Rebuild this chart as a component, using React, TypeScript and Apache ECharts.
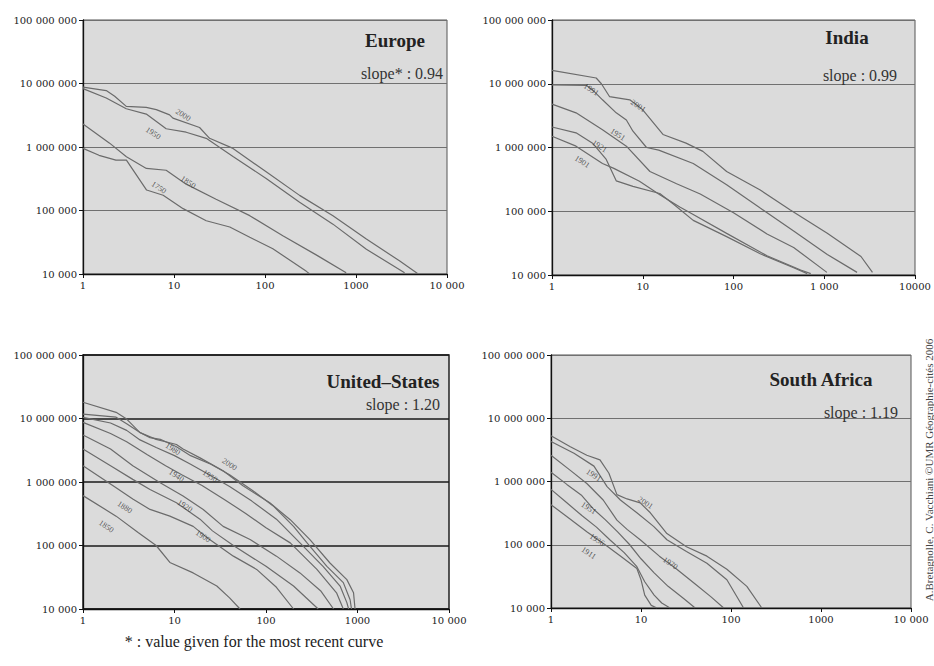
import React, { useEffect, useRef } from "react";
import * as echarts from "echarts";

type Pt = [number, number];

// ---------- tick labels ----------
const Y_TICKS = ["10 000", "100 000", "1 000 000", "10 000 000", "100 000 000"];
const X_TICKS_EUROPE = ["1", "10", "100", "1000", "10 000"];
const X_TICKS_INDIA = ["1", "10", "100", "1 000", "10000"];
const X_TICKS_US = ["1", "10", "100", "1000", "10 000"];
const X_TICKS_SA = ["1", "10", "100", "1000", "10 000"];

// ---------- Europe (rank, population) ----------
const EUROPE_YEARS = ["2000", "1950", "1850", "1750"];
const EUROPE_2000: Pt[] = [[1, 8.74e6], [1.8, 7.74e6], [2.23, 6.3e6], [2.99, 4.37e6], [4.96, 4.2e6], [6.39, 3.87e6], [8.95, 3.2e6], [9.73, 2.85e6], [19.1, 2.03e6], [24.6, 1.37e6], [44.5, 9.5e5], [103, 4.06e5], [240, 1.73e5], [558, 8.3e4], [1300, 3.55e4], [3028, 1.6e4], [4743, 1.02e4]];
const EUROPE_1950: Pt[] = [[1, 8.3e6], [1.8, 5.9e6], [2.99, 4.0e6], [4.96, 3.3e6], [8.2, 1.94e6], [13.6, 1.71e6], [22.6, 1.37e6], [44.5, 7.1e5], [103, 3.2e5], [240, 1.35e5], [558, 6.1e4], [1300, 2.45e4], [3420, 1.05e4]];
const EUROPE_1850: Pt[] = [[1, 2.3e6], [1.96, 1.15e6], [3, 7e5], [4.97, 4.6e5], [8.2, 4.3e5], [13.6, 2.6e5], [29, 1.5e5], [68, 8.3e4], [157, 4e4], [365, 2e4], [780, 1.05e4]];
const EUROPE_1750: Pt[] = [[1, 9.5e5], [1.5, 7.4e5], [2.3, 6.2e5], [3, 6.2e5], [5, 2.1e5], [7.6, 1.74e5], [12.6, 1.07e5], [22.6, 6.9e4], [41, 5.5e4], [68, 3.8e4], [122, 2.5e4], [285, 1.1e4], [310, 1.0e4]];
const EUROPE_LABEL_AT: Pt[] = [[12.6, 3.2e6], [5.9, 1.65e6], [14.3, 2.8e5], [6.8, 2.3e5]];

// ---------- India ----------
const INDIA_YEARS = ["2001", "1991", "1951", "1921", "1901"];
const INDIA_2001: Pt[] = [[1, 1.62e7], [3.07, 1.23e7], [3.5, 1.0e7], [4.3, 6.3e6], [7.2, 5.6e6], [10, 3.9e6], [16.7, 1.6e6], [30, 1.17e6], [46, 8.7e5], [84, 4.2e5], [197, 2.15e5], [423, 1.05e5], [1080, 4.5e4], [2540, 1.95e4], [3400, 1.1e4]];
const INDIA_1991: Pt[] = [[1, 9.6e6], [2.4, 9.4e6], [2.8, 8e6], [3.6, 5.6e6], [5.1, 3.5e6], [6.6, 2.7e6], [7.8, 1.8e6], [11, 1.0e6], [15, 9.1e5], [36, 5.6e5], [84, 2.6e5], [197, 1.12e5], [460, 4.9e4], [1080, 2.1e4], [2300, 1.1e4]];
const INDIA_1951: Pt[] = [[1, 4.8e6], [1.84, 3.5e6], [3.6, 1.9e6], [6.6, 1.05e6], [12, 4.2e5], [23.6, 2.7e5], [43, 1.86e5], [100, 9.5e4], [234, 4.4e4], [460, 2.7e4], [1070, 1.1e4]];
const INDIA_1921: Pt[] = [[1, 2.1e6], [1.84, 1.7e6], [2.8, 1.17e6], [3.96, 6.5e5], [5.1, 3.0e5], [7.8, 2.45e5], [15.4, 1.9e5], [21.7, 1.3e5], [36, 7.2e4], [84, 4.0e4], [197, 2.15e4], [460, 1.3e4], [650, 1.05e4]];
const INDIA_1901: Pt[] = [[1, 1.5e6], [1.84, 1.05e6], [3.6, 5.6e5], [4.8, 4.7e5], [9.2, 2.95e5], [15.4, 1.82e5], [25.6, 1.17e5], [36, 8.9e4], [84, 4.5e4], [234, 2.0e4], [550, 1.2e4], [710, 1.05e4]];
const INDIA_LABEL_AT: Pt[] = [[8.9, 4.5e6], [2.7, 8.1e6], [5.3, 1.6e6], [3.34, 1.05e6], [2.15, 6.0e5]];

// ---------- United States ----------
const US_YEARS = ["2000", "1980", "1950", "1940", "1920", "1900", "1880", "1850"];
const US_2000: Pt[] = [[1, 1.8e7], [2.3, 1.25e7], [3, 9.8e6], [4.2, 6e6], [6.3, 4.7e6], [10.5, 3.9e6], [12.4, 3.3e6], [19, 2.4e6], [34, 1.5e6], [56, 8.7e5], [110, 4.7e5], [184, 2.55e5], [302, 1.24e5], [500, 5.3e4], [765, 2.9e4], [905, 1.8e4], [940, 1.0e4]];
const US_1980: Pt[] = [[1, 1.17e7], [2.3, 1.05e7], [3, 8.3e6], [4.2, 6e6], [5.4, 5e6], [7, 4.7e6], [10.5, 3.6e6], [15, 2.6e6], [25, 1.9e6], [40, 1.3e6], [70, 7.5e5], [120, 4.2e5], [200, 2.0e5], [278, 1.12e5], [463, 4.7e4], [700, 2.6e4], [830, 1.4e4], [860, 1.0e4]];
const US_1950: Pt[] = [[1, 1.04e7], [2, 8.5e6], [3, 6.5e6], [4.2, 4.6e6], [6.3, 3.5e6], [10, 2.6e6], [15, 1.9e6], [24, 1.3e6], [40, 8.5e5], [70, 5e5], [130, 2.6e5], [235, 1.1e5], [420, 4.7e4], [645, 2.3e4], [765, 1.26e4], [800, 1.0e4]];
const US_1940: Pt[] = [[1, 8.7e6], [2, 5.8e6], [3, 4.3e6], [5, 2.7e6], [8, 1.8e6], [12, 1.3e6], [20, 8.8e5], [35, 5.3e5], [60, 3.2e5], [100, 1.9e5], [184, 1.1e5], [360, 4.2e4], [590, 1.8e4], [700, 1.0e4]];
const US_1920: Pt[] = [[1, 5.5e6], [2, 3.3e6], [3.5, 1.8e6], [6.9, 9.8e5], [12.4, 6e5], [20.6, 3.7e5], [34, 2e5], [67, 1.24e5], [130, 6.8e4], [235, 3.7e4], [400, 1.9e4], [547, 1.0e4]];
const US_1900: Pt[] = [[1, 3.3e6], [2, 1.8e6], [3.5, 1.1e6], [5.4, 7.6e5], [10.5, 4.7e5], [19, 2.6e5], [26, 1.7e5], [44, 1.0e5], [100, 4.7e4], [200, 2.3e4], [372, 1.0e4]];
const US_1880: Pt[] = [[1, 1.8e6], [2.3, 8.1e5], [3.5, 5.4e5], [5.4, 3.7e5], [8.9, 2.9e5], [16, 2e5], [24, 1.25e5], [44, 6.8e4], [79, 4.2e4], [130, 2.2e4], [200, 1.0e4]];
const US_1850: Pt[] = [[1, 6.1e5], [2.3, 2.9e5], [4, 1.6e5], [6.3, 1.0e5], [8.9, 5.4e4], [16, 3.7e4], [29, 2.3e4], [40, 1.5e4], [52, 1.0e4]];
const US_LABEL_AT: Pt[] = [[40, 1.9e6], [9.6, 3.3e6], [24.4, 1.24e6], [10.5, 1.26e6], [13, 4.2e5], [20.5, 1.4e5], [2.86, 4e5], [1.8, 2e5]];

// ---------- South Africa ----------
const SA_YEARS = ["2001", "1991", "1970", "1951", "1936", "1911"];
const SA_2001: Pt[] = [[1, 5.3e6], [1.64, 3.55e6], [2.5, 2.6e6], [3.5, 2.2e6], [4.4, 1.35e6], [5.4, 6.2e5], [7, 5.3e5], [9.8, 4.6e5], [12.7, 3.2e5], [19.4, 1.5e5], [32, 9.3e4], [54, 6.6e4], [90, 4.1e4], [150, 2.2e4], [220, 1.0e4]];
const SA_1991: Pt[] = [[1, 4.3e6], [1.8, 2.8e6], [3, 1.75e6], [4.2, 8.3e5], [5.9, 5.1e5], [9, 3.2e5], [13.8, 1.95e5], [19.4, 1.2e5], [32, 7.8e4], [54, 5.1e4], [90, 2.8e4], [138, 1.0e4]];
const SA_1970: Pt[] = [[1, 2.6e6], [1.64, 1.5e6], [2.5, 9.3e5], [3.8, 5.1e5], [5.4, 2.45e5], [7, 1.75e5], [9.8, 1.2e5], [16, 6.6e4], [25, 4.1e4], [40, 2.4e4], [60, 1.5e4], [83, 1.0e4]];
const SA_1951: Pt[] = [[1, 1.4e6], [1.5, 9e5], [2.2, 6e5], [3, 3.6e5], [4, 2.5e5], [5.5, 1.6e5], [7.5, 1.0e5], [10, 6e4], [14, 3.6e4], [20, 2.2e4], [30, 1.4e4], [40, 1.0e4]];
const SA_1936: Pt[] = [[1, 7.5e5], [1.5, 4.6e5], [2.2, 2.9e5], [3.2, 1.9e5], [4.5, 1.2e5], [6.5, 7.5e4], [9, 4.5e4], [11, 2.6e4], [14, 1.6e4], [17, 1.2e4], [21, 1.0e4]];
const SA_1911: Pt[] = [[1, 4.3e5], [1.6, 2.6e5], [2.5, 1.6e5], [4, 1.0e5], [6, 6.5e4], [9, 4.2e4], [10, 2.8e4], [11, 1.6e4], [13, 1.1e4], [15, 1.0e4]];
const SA_LABEL_AT: Pt[] = [[11.2, 4.6e5], [2.98, 1.26e6], [21.2, 5.1e4], [2.62, 3.8e5], [3.24, 1.2e5], [2.62, 7.4e4]];

// ---------- texts ----------
const TITLES = ["Europe", "India", "United–States", "South Africa"];
const SLOPES = ["slope* : 0.94", "slope : 0.99", "slope : 1.20", "slope : 1.19"];
const FOOTNOTE = "* : value given for the most recent curve";
const CREDIT = "A.Bretagnolle, C. Vacchiani ©UMR Géographie-cités 2006";

const PANELS = [
  { years: EUROPE_YEARS, curves: [EUROPE_2000, EUROPE_1950, EUROPE_1850, EUROPE_1750], labelAt: EUROPE_LABEL_AT, xTicks: X_TICKS_EUROPE },
  { years: INDIA_YEARS, curves: [INDIA_2001, INDIA_1991, INDIA_1951, INDIA_1921, INDIA_1901], labelAt: INDIA_LABEL_AT, xTicks: X_TICKS_INDIA },
  { years: US_YEARS, curves: [US_2000, US_1980, US_1950, US_1940, US_1920, US_1900, US_1880, US_1850], labelAt: US_LABEL_AT, xTicks: X_TICKS_US },
  { years: SA_YEARS, curves: [SA_2001, SA_1991, SA_1970, SA_1951, SA_1936, SA_1911], labelAt: SA_LABEL_AT, xTicks: X_TICKS_SA },
];

const GRIDS = [
  { left: 83, top: 20, width: 364, height: 254 },
  { left: 552, top: 20, width: 363, height: 255 },
  { left: 83, top: 355, width: 366, height: 254 },
  { left: 551, top: 355, width: 360, height: 253 },
];

const AXIS_FONT = '"DejaVu Serif", serif';
const SERIF = '"Liberation Serif", "Times New Roman", serif';

function tickIndex(v: number, minExp: number) {
  return Math.round(Math.log10(v)) - minExp;
}

export default function App() {
  const ref = useRef<HTMLDivElement>(null);
  useEffect(() => {
    if (!ref.current) return;
    const chart = echarts.init(ref.current, undefined, { renderer: "svg" });
    const isUS = (i: number) => i === 2;

    const xAxes = PANELS.map((p, i) => ({
      type: "log",
      logBase: 10,
      gridIndex: i,
      min: 1,
      max: 10000,
      axisLine: { show: true, lineStyle: { color: "#111", width: 1.3 } },
      axisTick: { show: true, length: 4, lineStyle: { color: "#111" } },
      axisLabel: {
        margin: 6,
        fontSize: 10,
        fontFamily: AXIS_FONT,
        color: "#222",
        formatter: (v: number) => p.xTicks[tickIndex(v, 0)] ?? "",
      },
      splitLine: { show: false },
      minorTick: { show: false },
    }));

    const yAxes = PANELS.map((p, i) => ({
      type: "log",
      logBase: 10,
      gridIndex: i,
      min: 10000,
      max: 100000000,
      axisLine: { show: true, lineStyle: { color: "#111", width: 1.3 } },
      axisTick: { show: true, length: 4, lineStyle: { color: "#111" } },
      axisLabel: {
        margin: 6,
        fontSize: 10,
        fontFamily: AXIS_FONT,
        color: "#222",
        formatter: (v: number) => Y_TICKS[tickIndex(v, 4)] ?? "",
      },
      splitLine: {
        show: true,
        lineStyle: { color: isUS(i) ? "#1a1a1a" : "#707070", width: isUS(i) ? 1.6 : 1 },
      },
    }));

    const series: any[] = [];
    PANELS.forEach((p, i) => {
      p.curves.forEach((c, k) => {
        series.push({
          type: "line",
          name: p.years[k],
          xAxisIndex: i,
          yAxisIndex: i,
          data: c,
          showSymbol: false,
          symbol: "none",
          silent: true,
          lineStyle: { color: "#6b6b6b", width: 1.2 },
          z: 3,
        });
      });
      series.push({
        type: "scatter",
        xAxisIndex: i,
        yAxisIndex: i,
        symbolSize: 1,
        itemStyle: { color: "rgba(0,0,0,0)" },
        silent: true,
        z: 4,
        data: p.years.map((y, k) => ({ name: y, value: p.labelAt[k] })),
        label: {
          show: true,
          position: "inside",
          formatter: "{b}",
          rotate: -33,
          fontSize: 8,
          fontFamily: SERIF,
          color: "#333",
        },
      });
    });

    const titlePos = [
      { t: [395, 40], s: [402, 73] },
      { t: [847, 37], s: [860, 75] },
      { t: [383, 381], s: [403, 404] },
      { t: [821, 379], s: [861, 412] },
    ];

    const graphics: any[] = [];
    titlePos.forEach((pos, i) => {
      graphics.push({
        type: "text",
        x: pos.t[0],
        y: pos.t[1],
        z: 10,
        style: { text: TITLES[i], font: `bold 19px ${SERIF}`, fill: "#222", align: "center", verticalAlign: "middle" },
      });
      graphics.push({
        type: "text",
        x: pos.s[0],
        y: pos.s[1],
        z: 10,
        style: { text: SLOPES[i], font: `16px ${SERIF}`, fill: "#333", align: "center", verticalAlign: "middle" },
      });
    });
    graphics.push({
      type: "text",
      x: 254,
      y: 641,
      style: { text: FOOTNOTE, font: `16px ${SERIF}`, fill: "#222", align: "center", verticalAlign: "middle" },
    });
    graphics.push({
      type: "text",
      x: 929,
      y: 470,
      rotation: Math.PI / 2,
      style: { text: CREDIT, font: `11px ${SERIF}`, fill: "#444", align: "center", verticalAlign: "middle" },
    });

    chart.setOption({
      animation: false,
      backgroundColor: "#ffffff",
      grid: GRIDS.map((g, i) => ({
        ...g,
        show: true,
        backgroundColor: "#dbdbdb",
        borderColor: isUS(i) ? "#222" : "#555",
        borderWidth: isUS(i) ? 1.5 : 1,
      })),
      xAxis: xAxes,
      yAxis: yAxes,
      series,
      graphic: graphics,
    });
    return () => chart.dispose();
  }, []);

  return (
    <div
      ref={ref}
      style={{ position: "fixed", left: 0, top: 0, width: 934, height: 666, background: "#fff" }}
    />
  );
}
